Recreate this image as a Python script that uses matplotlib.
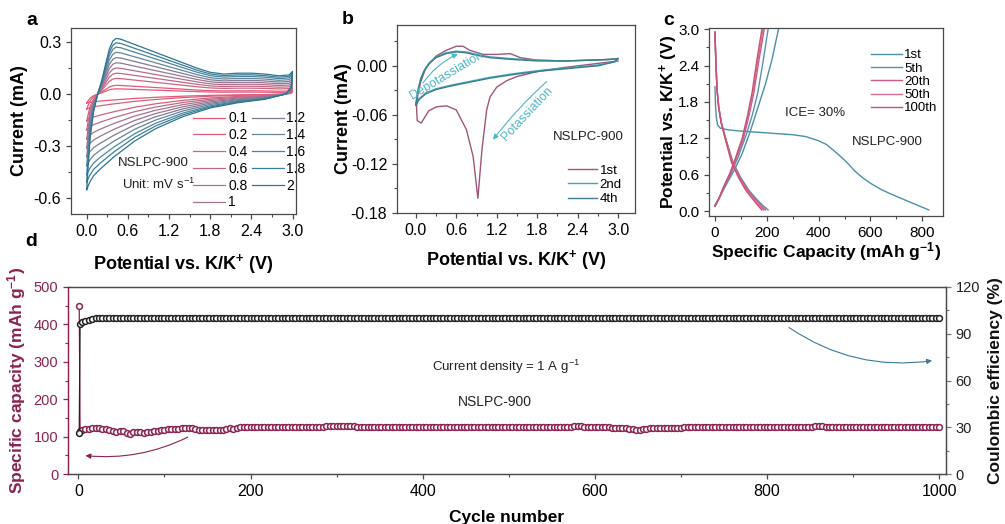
import numpy as np
import matplotlib
matplotlib.use("Agg")
import matplotlib.pyplot as plt
from matplotlib.ticker import MultipleLocator, FormatStrFormatter
from matplotlib.patches import FancyArrowPatch

plt.rcParams['font.family'] = ['Liberation Sans', 'DejaVu Sans']
plt.rcParams['mathtext.default'] = 'regular'
plt.rcParams['axes.unicode_minus'] = False

# ---------------- data ----------------
# (a) CV at different scan rates (mV/s); loop of 2 mV/s, peak anodic currents per rate
scan_rates = ['0.1', '0.2', '0.4', '0.6', '0.8', '1', '1.2', '1.4', '1.6', '1.8', '2']
rate_colors = ['#E8587A', '#DC5E7E', '#CF6482', '#C06A88', '#AE708D', '#9A7690',
               '#7E7C95', '#66859A', '#4E859E', '#3C7E9A', '#2E7594']
peak_currents = [0.03, 0.05, 0.09, 0.12, 0.15, 0.18, 0.21, 0.24, 0.27, 0.295, 0.32]
cv_a_potential = [0.00, 0.02, 0.05, 0.10, 0.16, 0.22, 0.28, 0.33, 0.38, 0.43, 0.50, 0.60, 0.80,
                  1.00, 1.20, 1.40, 1.60, 1.80, 2.00, 2.20, 2.40, 2.60, 2.80, 2.95, 3.00,
                  2.98, 2.90, 2.60, 2.20, 1.80, 1.40, 1.00, 0.70, 0.40, 0.20, 0.10, 0.04, 0.00]
cv_a_current = [-0.55, -0.42, -0.25, -0.10, 0.00, 0.08, 0.18, 0.26, 0.305, 0.32, 0.315, 0.30, 0.27,
                0.24, 0.21, 0.18, 0.15, 0.125, 0.115, 0.12, 0.12, 0.115, 0.105, 0.11, 0.13,
                0.04, 0.00, -0.03, -0.05, -0.08, -0.13, -0.20, -0.27, -0.36, -0.43, -0.47, -0.51, -0.55]

# (b) CV cycles
b_cycles = ['1st', '2nd', '4th']
b_colors = ['#A0557A', '#3FA7B8', '#3D7F8E']
b1_v = [3.0, 2.6, 2.2, 1.8, 1.5, 1.35, 1.2, 1.1, 1.05, 0.98, 0.92, 0.85, 0.75, 0.6, 0.46, 0.31,
        0.19, 0.08, 0.02, 0.01, 0.03, 0.07, 0.15, 0.3, 0.45, 0.6, 0.7, 0.8, 1.0, 1.2, 1.4, 1.55,
        1.8, 2.2, 2.6, 2.9, 3.0]
b1_i = [0.006, 0.002, -0.002, -0.007, -0.013, -0.018, -0.026, -0.038, -0.054, -0.103, -0.162,
        -0.111, -0.078, -0.054, -0.049, -0.050, -0.055, -0.070, -0.067, -0.050, -0.035, -0.020,
        -0.002, 0.012, 0.019, 0.024, 0.024, 0.019, 0.014, 0.014, 0.015, 0.010, 0.007, 0.006,
        0.007, 0.008, 0.009]
b2_v = [0.0, 0.03, 0.07, 0.12, 0.2, 0.3, 0.45, 0.6, 0.75, 0.9, 1.1, 1.4, 1.8, 2.2, 2.6, 2.9, 3.0,
        2.95, 2.7, 2.3, 1.9, 1.5, 1.1, 0.8, 0.5, 0.3, 0.15, 0.05, 0.0]
b2_i = [-0.046, -0.030, -0.016, -0.006, 0.004, 0.011, 0.016, 0.018, 0.017, 0.014, 0.011, 0.009,
        0.007, 0.006, 0.007, 0.008, 0.009, 0.005, 0.001, -0.002, -0.005, -0.009, -0.014, -0.019,
        -0.024, -0.028, -0.033, -0.040, -0.046]
b4_v = [0.0, 0.03, 0.07, 0.12, 0.2, 0.3, 0.45, 0.6, 0.75, 0.9, 1.1, 1.4, 1.8, 2.2, 2.6, 2.9, 3.0,
        2.95, 2.7, 2.3, 1.9, 1.5, 1.1, 0.8, 0.5, 0.3, 0.15, 0.05, 0.0]
b4_i = [-0.048, -0.031, -0.017, -0.007, 0.003, 0.010, 0.015, 0.017, 0.016, 0.013, 0.010, 0.008,
        0.006, 0.006, 0.007, 0.008, 0.009, 0.005, 0.000, -0.003, -0.006, -0.010, -0.015, -0.020,
        -0.025, -0.029, -0.034, -0.041, -0.048]

# (c) charge/discharge profiles
c_cycles = ['1st', '5th', '20th', '50th', '100th']
c_colors = ['#4A90A6', '#5B8FB0', '#C75C84', '#D0709A', '#CC5070']
c1_dis_cap = [0, 2, 5, 10, 20, 50, 100, 200, 300, 350, 400, 430, 450, 480, 510, 540, 570, 600,
              640, 680, 730, 780, 825]
c1_dis_v = [2.05, 1.75, 1.55, 1.42, 1.37, 1.34, 1.32, 1.29, 1.26, 1.23, 1.16, 1.10, 1.03, 0.92,
            0.80, 0.66, 0.55, 0.46, 0.36, 0.28, 0.19, 0.10, 0.02]
c1_chg_cap = [0, 20, 45, 75, 105, 135, 165, 195, 220, 245]
c1_chg_v = [0.10, 0.25, 0.45, 0.68, 0.95, 1.30, 1.70, 2.10, 2.50, 3.00]
c5_dis_cap = [0, 3, 8, 15, 25, 45, 70, 100, 130, 160, 188, 205]
c5_dis_v = [2.95, 2.50, 2.00, 1.70, 1.45, 1.15, 0.80, 0.55, 0.35, 0.20, 0.08, 0.02]
c5_chg_cap = [0, 15, 35, 60, 90, 120, 145, 165, 185, 205]
c5_chg_v = [0.10, 0.20, 0.38, 0.60, 0.90, 1.25, 1.60, 1.95, 2.45, 3.00]
c20_dis_cap = [0, 3, 8, 15, 25, 44, 68, 97, 126, 155, 180, 195]
c20_dis_v = [2.95, 2.50, 2.00, 1.70, 1.45, 1.15, 0.80, 0.55, 0.35, 0.20, 0.08, 0.02]
c20_chg_cap = [0, 15, 35, 60, 85, 110, 130, 150, 170, 190]
c20_chg_v = [0.08, 0.20, 0.40, 0.62, 0.90, 1.20, 1.55, 1.95, 2.50, 3.00]
c50_dis_cap = [0, 3, 8, 15, 25, 43, 66, 94, 122, 150, 174, 188]
c50_dis_v = [2.95, 2.50, 2.00, 1.70, 1.45, 1.15, 0.80, 0.55, 0.35, 0.20, 0.08, 0.02]
c50_chg_cap = [0, 14, 34, 58, 83, 107, 127, 147, 166, 186]
c50_chg_v = [0.08, 0.20, 0.40, 0.62, 0.90, 1.20, 1.55, 1.95, 2.50, 3.00]
c100_dis_cap = [0, 3, 8, 14, 24, 42, 64, 91, 118, 145, 168, 181]
c100_dis_v = [2.95, 2.50, 2.00, 1.70, 1.45, 1.15, 0.80, 0.55, 0.35, 0.20, 0.08, 0.02]
c100_chg_cap = [0, 14, 33, 57, 81, 105, 124, 143, 162, 181]
c100_chg_v = [0.08, 0.20, 0.40, 0.62, 0.90, 1.20, 1.55, 1.95, 2.50, 3.00]

# (d) long cycling at 1 A/g : cycles 1, 2, then every 4 cycles
d_cycles = [1, 2] + list(range(4, 1001, 4))
d_capacity = [450, 115,
    117, 120, 121, 122, 122, 122, 121, 120, 118, 114, 112, 114, 115, 110, 108, 111, 113, 112, 110, 111, 113, 115, 116, 118, 119,
    120, 121, 121, 121, 122, 122, 122, 122, 121, 119, 118, 117, 117, 117, 117, 118, 118, 120, 122, 121, 124, 125, 126, 126, 126,
    126, 126, 126, 126, 126, 126, 126, 126, 126, 126, 126, 126, 126, 126, 126, 126, 127, 127, 127, 127, 127, 128, 128, 128, 128,
    128, 129, 128, 128, 128, 127, 127, 126, 126, 126, 126, 126, 126, 126, 126, 126, 126, 126, 126, 126, 126, 126, 126, 126, 126,
    126, 126, 125, 126, 126, 126, 126, 126, 126, 126, 126, 126, 126, 126, 126, 126, 126, 126, 126, 126, 126, 126, 126, 126, 126,
    126, 126, 126, 126, 126, 126, 126, 126, 126, 126, 126, 126, 126, 126, 127, 127, 127, 127, 128, 128, 128, 127, 127, 126, 126,
    126, 125, 125, 125, 124, 124, 123, 123, 122, 121, 120, 119, 118, 120, 121, 122, 122, 123, 123, 123, 124, 124, 124, 124, 124,
    125, 125, 125, 125, 125, 125, 125, 125, 125, 125, 125, 125, 125, 125, 125, 126, 126, 126, 126, 126, 126, 126, 126, 126, 126,
    126, 126, 126, 126, 126, 126, 126, 126, 126, 126, 126, 127, 127, 128, 128, 128, 127, 127, 127, 127, 127, 127, 127, 127, 127,
    127, 127, 127, 127, 127, 127, 127, 127, 127, 127, 127, 127, 127, 127, 127, 127, 127, 127, 127, 127, 127, 127, 127, 127, 127]
d_efficiency = [26.5, 96.5,
    97.5, 98.5, 99.0, 99.5, 99.8, 100, 100, 100, 100, 100, 100, 100, 100, 100, 100, 100, 100, 100, 100, 100, 100, 100, 100, 100, 100,
    100, 100, 100, 100, 100, 100, 100, 100, 100, 100, 100, 100, 100, 100, 100, 100, 100, 100, 100, 100, 100, 100, 100, 100, 100,
    100, 100, 100, 100, 100, 100, 100, 100, 100, 100, 100, 100, 100, 100, 100, 100, 100, 100, 100, 100, 100, 100, 100, 100, 100,
    100, 100, 100, 100, 100, 100, 100, 100, 100, 100, 100, 100, 100, 100, 100, 100, 100, 100, 100, 100, 100, 100, 100, 100, 100,
    100, 100, 100, 100, 100, 100, 100, 100, 100, 100, 100, 100, 100, 100, 100, 100, 100, 100, 100, 100, 100, 100, 100, 100, 100,
    100, 100, 100, 100, 100, 100, 100, 100, 100, 100, 100, 100, 100, 100, 100, 100, 100, 100, 100, 100, 100, 100, 100, 100, 100,
    100, 100, 100, 100, 100, 100, 100, 100, 100, 100, 100, 100, 100, 100, 100, 100, 100, 100, 100, 100, 100, 100, 100, 100, 100,
    100, 100, 100, 100, 100, 100, 100, 100, 100, 100, 100, 100, 100, 100, 100, 100, 100, 100, 100, 100, 100, 100, 100, 100, 100,
    100, 100, 100, 100, 100, 100, 100, 100, 100, 100, 100, 100, 100, 100, 100, 100, 100, 100, 100, 100, 100, 100, 100, 100, 100,
    100, 100, 100, 100, 100, 100, 100, 100, 100, 100, 100, 100, 100, 100, 100, 100, 100, 100, 100, 100, 100, 100, 100, 100, 100]

# ---------------- styling helpers ----------------
SPINE = '#4a4a4a'
MAROON = '#8B2252'
TICK_FS = 11.5
LABEL_FS = 13


def style_axes(ax, spine_color=SPINE):
    for s in ax.spines.values():
        s.set_color(spine_color)
        s.set_linewidth(0.9)
    ax.tick_params(which='both', direction='out', color=spine_color, labelsize=TICK_FS,
                   top=False, right=False)
    ax.tick_params(which='major', length=3.5, width=0.9)
    ax.tick_params(which='minor', length=2, width=0.8)


fig = plt.figure(figsize=(10.05, 5.24), dpi=100)

# ---------------- panel a ----------------
axa = fig.add_axes([0.0706, 0.5916, 0.2239, 0.355])
for lab, col, pk in zip(scan_rates, rate_colors, peak_currents):
    axa.plot(cv_a_potential, np.array(cv_a_current) * pk / peak_currents[-1],
             color=col, lw=0.9, label=lab)
axa.set_xlim(-0.23, 3.05)
axa.set_ylim(-0.69, 0.38)
axa.xaxis.set_major_locator(MultipleLocator(0.6))
axa.xaxis.set_minor_locator(MultipleLocator(0.3))
axa.yaxis.set_major_locator(MultipleLocator(0.3))
axa.yaxis.set_minor_locator(MultipleLocator(0.15))
axa.xaxis.set_major_formatter(FormatStrFormatter('%.1f'))
axa.yaxis.set_major_formatter(FormatStrFormatter('%.1f'))
style_axes(axa)
axa.set_xlabel('Potential vs. K/K$^{+}$ (V)', fontsize=LABEL_FS, fontweight='bold')
axa.set_ylabel('Current (mA)', fontsize=LABEL_FS, fontweight='bold')
axa.xaxis.set_label_coords(0.5, -0.205)
axa.yaxis.set_label_coords(-0.19, 0.5)
axa.legend(ncol=2, loc='lower right', bbox_to_anchor=(1.08, -0.02), frameon=False,
           fontsize=10, handlelength=2.3, handletextpad=0.2, columnspacing=0.3,
           labelspacing=0.2, borderpad=0.1)
axa.text(0.364, 0.274, 'NSLPC-900', transform=axa.transAxes, fontsize=9.5,
         ha='center', va='center', color='#222222')
axa.text(0.391, 0.161, 'Unit: mV s$^{-1}$', transform=axa.transAxes, fontsize=9.5,
         ha='center', va='center', color='#222222')

# ---------------- panel b ----------------
axb = fig.add_axes([0.395, 0.5935, 0.2368, 0.3588])
axb.plot(b1_v, b1_i, color=b_colors[0], lw=1.0, label=b_cycles[0])
axb.plot(b2_v, b2_i, color=b_colors[1], lw=1.0, label=b_cycles[1])
axb.plot(b4_v, b4_i, color=b_colors[2], lw=1.0, label=b_cycles[2])
axb.set_xlim(-0.28, 3.25)
axb.set_ylim(-0.18, 0.05)
axb.xaxis.set_major_locator(MultipleLocator(0.6))
axb.xaxis.set_minor_locator(MultipleLocator(0.3))
axb.yaxis.set_major_locator(MultipleLocator(0.06))
axb.yaxis.set_minor_locator(MultipleLocator(0.03))
axb.xaxis.set_major_formatter(FormatStrFormatter('%.1f'))
axb.yaxis.set_major_formatter(FormatStrFormatter('%.2f'))
style_axes(axb)
axb.set_xlabel('Potential vs. K/K$^{+}$ (V)', fontsize=LABEL_FS, fontweight='bold')
axb.set_ylabel('Current (mA)', fontsize=LABEL_FS, fontweight='bold')
axb.xaxis.set_label_coords(0.5, -0.186)
axb.yaxis.set_label_coords(-0.19, 0.5)
axb.legend(loc='upper left', bbox_to_anchor=(0.685, 0.30), frameon=False, fontsize=9.5,
           handlelength=2.2, handletextpad=0.2, labelspacing=0.15, borderpad=0.1)
axb.text(0.803, 0.404, 'NSLPC-900', transform=axb.transAxes, fontsize=9.5,
         ha='center', va='center', color='#222222')
ARC = '#4DB6C6'
axb.text(0.45, -0.012, 'Depotassiation', fontsize=9, color=ARC, rotation=31,
         ha='center', va='center')
axb.add_patch(FancyArrowPatch((0.08, -0.024), (0.66, 0.016), connectionstyle='arc3,rad=-0.15',
                              arrowstyle='-|>,head_length=3,head_width=1.5', color=ARC, lw=0.8))
axb.text(1.66, -0.058, 'Potassiation', fontsize=9, color=ARC, rotation=47,
         ha='center', va='center')
axb.add_patch(FancyArrowPatch((1.97, -0.017), (1.12, -0.093), connectionstyle='arc3,rad=0.05',
                              arrowstyle='-|>,head_length=3,head_width=1.5', color=ARC, lw=0.8))

# ---------------- panel c ----------------
axc = fig.add_axes([0.7055, 0.5878, 0.2328, 0.3588])
c_sets = [(c1_dis_cap, c1_dis_v, c1_chg_cap, c1_chg_v),
          (c5_dis_cap, c5_dis_v, c5_chg_cap, c5_chg_v),
          (c20_dis_cap, c20_dis_v, c20_chg_cap, c20_chg_v),
          (c50_dis_cap, c50_dis_v, c50_chg_cap, c50_chg_v),
          (c100_dis_cap, c100_dis_v, c100_chg_cap, c100_chg_v)]
for lab, col, (dc, dv, cc, cv) in zip(c_cycles, c_colors, c_sets):
    axc.plot(dc, dv, color=col, lw=1.0, label=lab)
    axc.plot(cc, cv, color=col, lw=1.0)
axc.set_xlim(-23, 880)
axc.set_ylim(-0.08, 3.02)
axc.xaxis.set_major_locator(MultipleLocator(200))
axc.xaxis.set_minor_locator(MultipleLocator(100))
axc.yaxis.set_major_locator(MultipleLocator(0.6))
axc.yaxis.set_minor_locator(MultipleLocator(0.3))
axc.yaxis.set_major_formatter(FormatStrFormatter('%.1f'))
style_axes(axc)
axc.tick_params(labelsize=11)
axc.set_xlabel('Specific Capacity (mAh g$^{-1}$)', fontsize=12.5, fontweight='bold')
axc.set_ylabel('Potential vs. K/K$^{+}$ (V)', fontsize=12.5, fontweight='bold')
axc.xaxis.set_label_coords(0.5, -0.13)
axc.yaxis.set_label_coords(-0.124, 0.5)
axc.legend(loc='upper left', bbox_to_anchor=(0.66, 0.93), frameon=False, fontsize=9.5,
           handlelength=2.3, handletextpad=0.2, labelspacing=0.08, borderpad=0.1)
axc.text(0.453, 0.548, 'ICE= 30%', transform=axc.transAxes, fontsize=9.5,
         ha='center', va='center', color='#222222')
axc.text(0.761, 0.394, 'NSLPC-900', transform=axc.transAxes, fontsize=9.5,
         ha='center', va='center', color='#222222')

# ---------------- panel d ----------------
axd = fig.add_axes([0.0677, 0.0954, 0.8736, 0.3569])
axd2 = axd.twinx()
axd.plot(d_cycles, d_capacity, '-o', color=MAROON, lw=0.9, ms=4.2, mfc='white',
         mec=MAROON, mew=1.1)
axd2.plot(d_cycles, d_efficiency, '-o', color='#222222', lw=0.9, ms=4.2, mfc='white',
          mec='#222222', mew=1.1)
axd.set_xlim(-12, 1008)
axd.set_ylim(0, 500)
axd2.set_ylim(0, 120)
axd.xaxis.set_major_locator(MultipleLocator(200))
axd.xaxis.set_minor_locator(MultipleLocator(100))
axd.yaxis.set_major_locator(MultipleLocator(100))
axd.yaxis.set_minor_locator(MultipleLocator(50))
axd2.yaxis.set_major_locator(MultipleLocator(30))
axd2.yaxis.set_minor_locator(MultipleLocator(15))
style_axes(axd)
for s in axd2.spines.values():
    s.set_color(SPINE)
    s.set_linewidth(0.9)
axd2.spines['left'].set_color(MAROON)
axd.spines['left'].set_color(MAROON)
axd.tick_params(axis='y', which='both', colors=MAROON, labelsize=10.5)
axd.tick_params(axis='x', labelsize=11.5)
axd2.tick_params(axis='y', which='both', direction='out', color='#777777', labelcolor='#222222',
                 labelsize=10.5)
axd2.tick_params(axis='y', which='major', length=3.5, width=0.9)
axd2.tick_params(axis='y', which='minor', length=2, width=0.8)
axd.set_xlabel('Cycle number', fontsize=12.5, fontweight='bold')
axd.set_ylabel('Specific capacity (mAh g$^{-1}$)', fontsize=12.5, fontweight='bold', color=MAROON)
axd2.set_ylabel('Coulombic efficiency (%)', fontsize=12.5, fontweight='bold', color='#111111')
axd.xaxis.set_label_coords(0.5, -0.193)
axd.yaxis.set_label_coords(-0.046, 0.5)
axd2.yaxis.set_label_coords(1.048, 0.5)
axd.text(497, 286, 'Current density = 1 A g$^{-1}$', fontsize=9.5, ha='center', va='center',
         color='#222222')
axd.text(484, 193, 'NSLPC-900', fontsize=10, ha='center', va='center', color='#222222')
axd.add_patch(FancyArrowPatch((130, 102), (5, 50), connectionstyle='arc3,rad=-0.15',
                              arrowstyle='-|>,head_length=3,head_width=1.5', color=MAROON, lw=0.8))
axd2.add_patch(FancyArrowPatch((823, 95), (995, 73), connectionstyle='arc3,rad=0.2',
                               arrowstyle='-|>,head_length=3,head_width=1.5', color='#3A7A98', lw=0.8))

# ---------------- panel letters ----------------
for lab, x, y in [('a', 0.0318, 0.960), ('b', 0.346, 0.962), ('c', 0.665, 0.960), ('d', 0.031, 0.54)]:
    fig.text(x, y, lab, fontsize=14, fontweight='bold', ha='center', va='center')

fig.savefig('out.png', dpi=100)
